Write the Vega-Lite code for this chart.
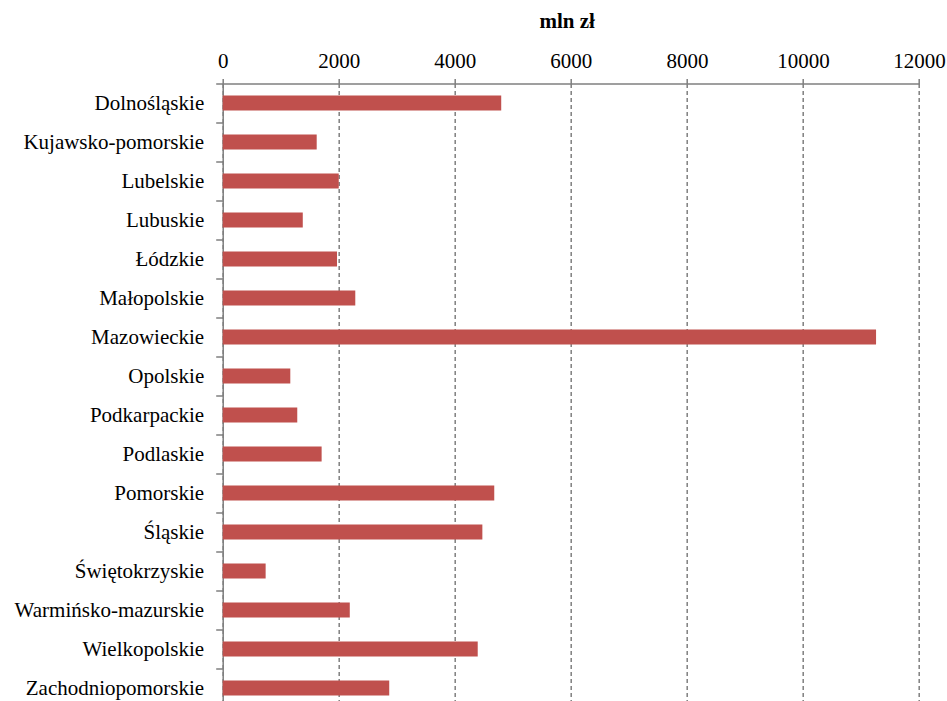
{
  "$schema": "https://vega.github.io/schema/vega-lite/v6.json",
  "width": 696.3,
  "height": 617,
  "autosize": {"type": "none"},
  "padding": {"left": 222.7, "top": 83.5, "right": 28, "bottom": 0.5},
  "background": "white",
  "config": {"view": {"stroke": null}, "font": "Liberation Serif"},
  "data": {
    "values": [
      {"region": "Dolnośląskie", "value": 4800},
      {"region": "Kujawsko-pomorskie", "value": 1620},
      {"region": "Lubelskie", "value": 2000},
      {"region": "Lubuskie", "value": 1380},
      {"region": "Łódzkie", "value": 1970},
      {"region": "Małopolskie", "value": 2285},
      {"region": "Mazowieckie", "value": 11260},
      {"region": "Opolskie", "value": 1165},
      {"region": "Podkarpackie", "value": 1285},
      {"region": "Podlaskie", "value": 1705},
      {"region": "Pomorskie", "value": 4680},
      {"region": "Śląskie", "value": 4475},
      {"region": "Świętokrzyskie", "value": 740},
      {"region": "Warmińsko-mazurskie", "value": 2190},
      {"region": "Wielkopolskie", "value": 4395},
      {"region": "Zachodniopomorskie", "value": 2870}
    ]
  },
  "mark": {"type": "bar", "color": "#C0504D", "height": {"band": 0.385}},
  "encoding": {
    "y": {
      "field": "region",
      "type": "nominal",
      "sort": null,
      "scale": {"range": [0, 624], "paddingInner": 0, "paddingOuter": 0},
      "axis": {
        "title": null,
        "labelFont": "Liberation Serif",
        "labelFontSize": 21,
        "labelColor": "black",
        "labelPadding": 12,
        "labelLimit": 400,
        "ticks": true,
        "tickSize": 7,
        "tickBand": "extent",
        "tickColor": "#7f7f7f",
        "tickWidth": 1.5,
        "tickOpacity": 1,
        "domainColor": "#7f7f7f",
        "domainWidth": 1.5,
        "grid": false
      }
    },
    "x": {
      "field": "value",
      "type": "quantitative",
      "scale": {"domain": [0, 12000], "nice": false},
      "axis": {
        "orient": "top",
        "values": [0, 2000, 4000, 6000, 8000, 10000, 12000],
        "format": "d",
        "labelFont": "Liberation Serif",
        "labelFontSize": 21,
        "labelColor": "black",
        "labelPadding": 7,
        "labelFlush": false,
        "labelOverlap": false,
        "tickSize": 5,
        "tickColor": "#7f7f7f",
        "tickWidth": 1.5,
        "domainColor": "#7f7f7f",
        "domainWidth": 1.5,
        "grid": true,
        "gridDash": [4, 3],
        "gridColor": "#7f7f7f",
        "gridOpacity": 1,
        "gridWidth": 1.5,
        "title": "mln zł",
        "titleFont": "Liberation Serif",
        "titleFontSize": 21,
        "titleFontWeight": "bold",
        "titleColor": "black",
        "titleY": -52,
        "titleX": 344,
        "titleBaseline": "bottom"
      }
    }
  }
}
